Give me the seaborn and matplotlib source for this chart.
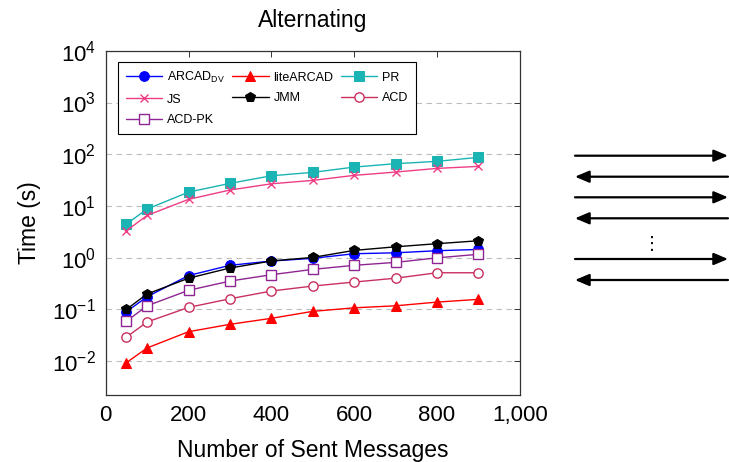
import matplotlib
matplotlib.use("Agg")
import matplotlib.pyplot as plt
import seaborn as sns
import pandas as pd
from matplotlib.patches import FancyArrowPatch
from matplotlib.ticker import FixedLocator, FuncFormatter, NullLocator, LogLocator

sns.set_style("white")
plt.rcParams['font.family'] = ['Liberation Sans', 'DejaVu Sans']
plt.rcParams['mathtext.fontset'] = 'custom'
plt.rcParams['mathtext.rm'] = 'Liberation Sans'
plt.rcParams['mathtext.it'] = 'Liberation Sans:italic'
plt.rcParams['mathtext.bf'] = 'Liberation Sans:bold'
plt.rcParams['text.color'] = 'black'
plt.rcParams['axes.labelcolor'] = 'black'
plt.rcParams['xtick.color'] = 'black'
plt.rcParams['ytick.color'] = 'black'

# ---- data ----
messages = [50, 100, 200, 300, 400, 500, 600, 700, 800, 900]
arcad_dv = [0.09, 0.175, 0.45, 0.71, 0.86, 0.97, 1.19, 1.24, 1.36, 1.44]
lite_arcad = [0.0093, 0.0179, 0.0369, 0.0513, 0.067, 0.0914, 0.107, 0.117, 0.138, 0.156]
pr = [4.46, 8.7, 18.5, 27.3, 38.3, 44.6, 56.4, 65.6, 72.8, 86.9]
js = [3.31, 6.56, 13.4, 20.3, 26.8, 31.2, 39.0, 45.2, 53.2, 58.2]
jmm = [0.10, 0.198, 0.40, 0.63, 0.86, 1.01, 1.38, 1.62, 1.86, 2.12]
acd = [0.029, 0.057, 0.109, 0.160, 0.226, 0.282, 0.337, 0.40, 0.51, 0.51]
acd_pk = [0.059, 0.117, 0.233, 0.352, 0.467, 0.593, 0.71, 0.81, 0.99, 1.16]

series_names = ["ARCAD$_{\\mathrm{DV}}$", "liteARCAD", "PR", "JS", "JMM", "ACD", "ACD-PK"]
series_values = [arcad_dv, lite_arcad, pr, js, jmm, acd, acd_pk]
x_ticks = [0, 200, 400, 600, 800, 1000]

styles = [
    dict(color="#0000ff", marker="o", markersize=7, mfc="#0000ff", mec="#0000ff"),
    dict(color="#ff0000", marker="^", markersize=6.5, mfc="#ff0000", mec="#ff0000"),
    dict(color="#1ab4b4", marker="s", markersize=7, mfc="#1ab4b4", mec="#1ab4b4"),
    dict(color="#ee3d85", marker="x", markersize=6, mfc="#ee3d85", mec="#ee3d85", markeredgewidth=1.0),
    dict(color="#000000", marker="p", markersize=7.5, mfc="#000000", mec="#000000"),
    dict(color="#c9305f", marker="o", markersize=6.7, mfc="white", mec="#c9305f", markeredgewidth=1.0),
    dict(color="#8e2592", marker="s", markersize=6.5, mfc="white", mec="#8e2592", markeredgewidth=1.0),
]

rows = []
for name, vals in zip(series_names, series_values):
    for xv, yv in zip(messages, vals):
        rows.append({"series": name, "messages": xv, "time": yv})
df = pd.DataFrame(rows)

fig = plt.figure(figsize=(7.29, 4.62), dpi=100)
ax = fig.add_axes([0.145, 0.145, 0.568, 0.745])

handles = {}
for name, st in zip(series_names, styles):
    sub = df[df["series"] == name]
    sns.lineplot(data=sub, x="messages", y="time", ax=ax, color=st["color"],
                 marker=st["marker"], markersize=st["markersize"],
                 markerfacecolor=st["mfc"], markeredgecolor=st["mec"],
                 markeredgewidth=st.get("markeredgewidth", 0.75),
                 linewidth=1.0, label=name, legend=False)
    handles[name] = ax.lines[-1]

ax.set_yscale("log")
ax.set_xlim(0, 1000)
ax.set_ylim(10 ** -2.657, 1e4)
ax.xaxis.set_major_locator(FixedLocator(x_ticks))
ax.xaxis.set_major_formatter(FuncFormatter(lambda v, p: f"{v:,.0f}"))
ax.yaxis.set_major_locator(LogLocator(base=10, numticks=20))
ax.yaxis.set_minor_locator(NullLocator())
ax.xaxis.set_minor_locator(NullLocator())
ax.xaxis.get_offset_text().set_visible(False)
ax.yaxis.get_offset_text().set_visible(False)

ax.grid(True, axis="y", color="#bdbdbd", linestyle=(0, (5, 4)), linewidth=0.8)
ax.grid(False, axis="x")
ax.tick_params(axis="both", which="major", direction="in", length=4, width=0.7,
               top=True, right=True, labelsize=16, color="#333333", labelcolor="black")
ax.tick_params(axis="x", pad=7)
ax.tick_params(axis="y", pad=7)
for sp in ax.spines.values():
    sp.set_color("#333333")
    sp.set_linewidth(0.9)

ax.set_xlabel("Number of Sent Messages", fontsize=16.5, labelpad=9.5, color="black")
ax.set_ylabel("Time (s)", fontsize=16.5, labelpad=8, color="black")
ax.set_title("Alternating", fontsize=16.5, pad=17, color="black")

order = ["ARCAD$_{\\mathrm{DV}}$", "JS", "ACD-PK", "liteARCAD", "JMM", "PR", "ACD"]
leg = ax.legend([handles[n] for n in order], order, ncol=3, loc="upper left",
                bbox_to_anchor=(0.03, 0.967), fontsize=9, frameon=True, fancybox=False,
                framealpha=1, edgecolor="black", handlelength=2.9, handletextpad=0.4,
                columnspacing=0.6, borderpad=0.6, labelspacing=0.7, borderaxespad=0)
leg.get_frame().set_linewidth(0.8)
for t in leg.get_texts():
    t.set_color("black")

# right-side illustration of alternating messages
W, H = 729.0, 462.0
x0, x1 = 575 / W, 728 / W
arrow_rows = [(155.7, "right"), (176.7, "left"), (197.3, "right"), (218.3, "left"),
              (259.0, "right"), (280.0, "left")]
for yp, d in arrow_rows:
    yf = 1 - yp / H
    a, b = ((x0, yf), (x1, yf)) if d == "right" else ((x1, yf), (x0, yf))
    arr = FancyArrowPatch(a, b, transform=fig.transFigure,
                          arrowstyle="-|>,head_length=0.85,head_width=0.36",
                          mutation_scale=10, linewidth=1.6, color="black",
                          shrinkA=0, shrinkB=0)
    fig.add_artist(arr)
fig.text(652 / W, 1 - 243.5 / H, "\u22ee", ha="center", va="center", fontsize=13,
         family=["DejaVu Sans"], color="black")

fig.savefig("out.png", dpi=100)
